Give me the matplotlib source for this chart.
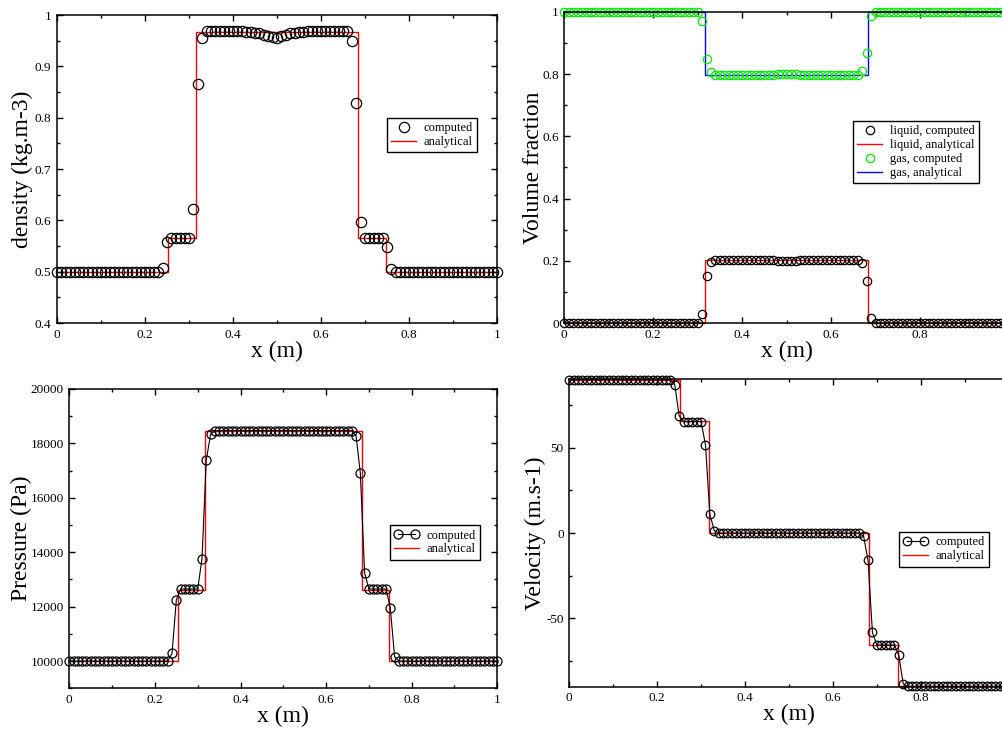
import numpy as np
import matplotlib
matplotlib.use("Agg")
import matplotlib.pyplot as plt
from matplotlib.ticker import MultipleLocator, FuncFormatter

plt.rcParams['font.family'] = ['Liberation Serif', 'DejaVu Serif']
plt.rcParams['axes.unicode_minus'] = False

# ---------------- data ----------------
x_cells = np.linspace(0.0, 1.0, 101)

density = ([0.5] * 24 + [0.508, 0.557] + [0.565] * 5 + [0.623, 0.866, 0.955]
           + [0.968] * 9
           + [0.967, 0.966, 0.965, 0.964, 0.962, 0.960, 0.958, 0.956, 0.959,
              0.962, 0.964, 0.965, 0.966, 0.967]
           + [0.968] * 10 + [0.950, 0.828, 0.597] + [0.565] * 5
           + [0.549, 0.505] + [0.5] * 24)

pressure = ([10000] * 24 + [10280, 12240] + [12650] * 5 + [13760, 17380, 18330]
            + [18470] * 33 + [18280, 16910, 13240] + [12650] * 5
            + [11960, 10160] + [10000] * 24)

velocity = ([89.8] * 24 + [86.9, 68.7] + [65.2] * 5 + [51.6, 10.9, 1.4]
            + [0.0] * 33 + [-1.9, -16.0, -58.2] + [-65.6] * 5
            + [-71.5, -88.3] + [-89.8] * 24)

liquid = ([0.0] * 31 + [0.030, 0.152, 0.197]
          + [0.203] * 12 + [0.202, 0.201, 0.200, 0.199, 0.199, 0.199, 0.200, 0.201, 0.202]
          + [0.203] * 12 + [0.194, 0.134, 0.016] + [0.0] * 31)

gas = ([1.0] * 31 + [0.972, 0.849, 0.806]
       + [0.797] * 12 + [0.798, 0.799, 0.800, 0.801, 0.802, 0.801, 0.800, 0.799, 0.798]
       + [0.797] * 12 + [0.810, 0.868, 0.987] + [1.0] * 31)

# analytical piecewise-constant solutions
wave_edges = [0.0, 0.253, 0.317, 0.683, 0.748, 1.0]
density_exact = [0.5, 0.565, 0.966, 0.565, 0.5]
pressure_exact = [10000, 12630, 18440, 12630, 10000]
velocity_exact = [89.8, 65.4, 0.0, -65.6, -89.8]
contact_edges = [0.0, 0.317, 0.683, 1.0]
liquid_exact = [0.0, 0.202, 0.0]
gas_exact = [1.0, 0.798, 1.0]

# ---------------- figure ----------------
W, H = 1003, 730
fig = plt.figure(figsize=(W / 100, H / 100), dpi=100)


def px_axes(left, top, right, bottom):
    return fig.add_axes([left / W, 1 - bottom / H, (right - left) / W, (bottom - top) / H])


def gfmt_x(hide_one):
    def f(v, p):
        if hide_one and abs(v - 1.0) < 1e-9:
            return ''
        return '%g' % round(v, 6)
    return FuncFormatter(f)


gfmt = FuncFormatter(lambda v, p: '%g' % round(v, 6))


def style(ax, xmajor, xminor, ymajor, yminor, hide_one=False):
    ax.xaxis.set_major_locator(MultipleLocator(xmajor))
    ax.xaxis.set_minor_locator(MultipleLocator(xminor))
    ax.yaxis.set_major_locator(MultipleLocator(ymajor))
    ax.yaxis.set_minor_locator(MultipleLocator(yminor))
    ax.xaxis.set_major_formatter(gfmt_x(hide_one))
    ax.yaxis.set_major_formatter(gfmt)
    ax.tick_params(which='both', direction='in', top=True, right=True,
                   labelsize=9.5, width=1.0, pad=4)
    ax.tick_params(which='major', length=4.5)
    ax.tick_params(which='minor', length=2.5)
    for s in ax.spines.values():
        s.set_linewidth(1.1)
    ax.set_xlabel('x (m)', fontsize=17, labelpad=0)


legend_kw = dict(fancybox=False, edgecolor='black', framealpha=1, fontsize=9,
                 borderpad=0.35, labelspacing=0.15, handlelength=2.0,
                 handletextpad=0.6, borderaxespad=0)

# --- density ---
ax1 = px_axes(57, 15, 497, 323)
ax1.plot(x_cells, density, 'o', mfc='none', mec='black', ms=7.4, mew=0.9,
         label='computed')
ax1.stairs(density_exact, wave_edges, baseline=None, color='red', lw=1.0,
           label='analytical')
ax1.set_xlim(0, 1)
ax1.set_ylim(0.4, 1.0)
style(ax1, 0.2, 0.1, 0.1, 0.05)
ax1.set_ylabel('density (kg.m-3)', fontsize=17, labelpad=1)
ax1.legend(loc='upper left', bbox_to_anchor=(0.75, 0.666), **legend_kw)

# --- volume fraction ---
ax2 = px_axes(564.3, 12, 1009, 323)
ax2.plot(x_cells, liquid, 'o', mfc='none', mec='black', ms=6.0, mew=0.9,
         label='liquid, computed')
ax2.stairs(liquid_exact, contact_edges, baseline=None, color='red', lw=1.0,
           label='liquid, analytical')
ax2.plot(x_cells, gas, 'o', mfc='none', mec='#00ee00', ms=6.0, mew=0.9,
         label='gas, computed')
ax2.stairs(gas_exact, contact_edges, baseline=None, color='blue', lw=1.0,
           label='gas, analytical')
ax2.set_xlim(0, 1)
ax2.set_ylim(0, 1)
style(ax2, 0.2, 0.1, 0.2, 0.1, hide_one=True)
ax2.set_ylabel('Volume fraction', fontsize=17, labelpad=-1)
ax2.legend(loc='upper left', bbox_to_anchor=(0.649, 0.6495), **legend_kw)

# --- pressure ---
ax3 = px_axes(69.3, 389, 497.3, 688.3)
ax3.plot(x_cells, pressure, '-o', color='black', mfc='none', mec='black',
         ms=6.5, mew=0.9, lw=0.8, label='computed')
ax3.stairs(pressure_exact, wave_edges, baseline=None, color='red', lw=1.0,
           label='analytical')
ax3.set_xlim(0, 1)
ax3.set_ylim(9000, 20000)
style(ax3, 0.2, 0.1, 2000, 1000)
ax3.set_ylabel('Pressure (Pa)', fontsize=17, labelpad=-1)
ax3.legend(loc='upper left', bbox_to_anchor=(0.749, 0.545), numpoints=2,
           **legend_kw)

# --- velocity ---
ax4 = px_axes(569.3, 379.3, 1008.6, 686.7)
ax4.plot(x_cells, velocity, '-o', color='black', mfc='none', mec='black',
         ms=6.2, mew=0.9, lw=0.8, label='computed')
ax4.stairs(velocity_exact, wave_edges, baseline=None, color='red', lw=1.0,
           label='analytical')
ax4.set_xlim(0, 1)
ax4.set_ylim(-90, 90)
style(ax4, 0.2, 0.1, 50, 25, hide_one=True)
ax4.set_ylabel('Velocity (m.s-1)', fontsize=17, labelpad=0)
ax4.legend(loc='upper left', bbox_to_anchor=(0.75, 0.503), numpoints=2,
           **legend_kw)

for ax in (ax1, ax2, ax3, ax4):
    for a in ax.lines + ax.patches:
        a.set_clip_on(False)

fig.savefig('out.png', dpi=100)
